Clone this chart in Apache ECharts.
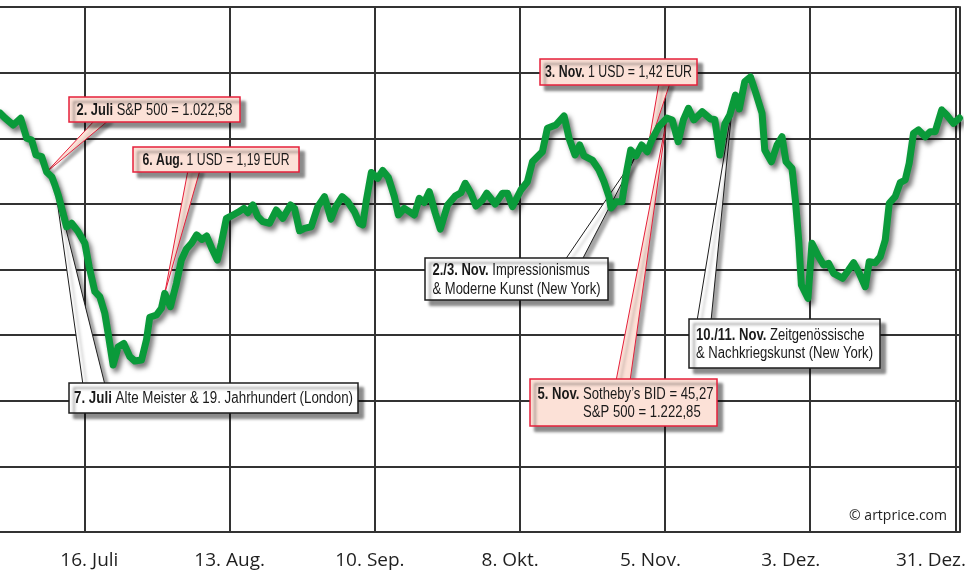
<!DOCTYPE html>
<html lang="de">
<head>
<meta charset="utf-8">
<title>Sotheby's (BID) – Juli bis Dezember</title>
<script src="https://cdn.jsdelivr.net/npm/echarts@6/dist/echarts.min.js"></script>
<style>
  html, body { margin: 0; padding: 0; background: #ffffff; }
  #chart { width: 969px; height: 570px; }
</style>
</head>
<body>
<div id="chart"></div>
<script>
// Days counted from 16 July (0) to 31 December (168).
const days = [
  -17.15, -16.38, -15.42, -13.82, -12.39, -11.23, -10.27, -9.44, -8.34, -7.38,
  -6.36, -5.78, -5.15, -3.53, -2.56, -1.29, 0, 0.83, 1.93, 2.89,
  3.85, 4.49, 5.45, 6.42, 7.52, 8.67, 9.64, 10.93, 11.89, 12.53,
  13.82, 14.78, 15.42, 16.51, 17.67, 18.63, 19.60, 20.62, 21.58, 22.55,
  23.51, 24.47, 25.57, 26.34, 27.31, 28.27, 29.54, 30.70, 31.47, 32.43,
  33.40, 34.36, 35.65, 36.94, 38.21, 39.70, 40.47, 41.43, 42.39, 43.69,
  44.96, 46.25, 47.50, 48.50, 49.66, 50.74, 52.03, 52.99, 53.63, 54.34,
  55.30, 56.52, 57.48, 58.58, 59.74, 60.51, 61.66, 62.63, 63.59, 64.55,
  65.52, 66.48, 67.64, 68.60, 70.01, 71.49, 72.59, 73.42, 74.52, 75.48,
  76.75, 77.56, 79.20, 80.61, 81.57, 82.53, 84.15, 85.42, 86.39, 87.68,
  88.31, 89.28, 90.90, 92.50, 93.46, 94.62, 95.52, 96.35, 97.95, 99.24,
  100.20, 101.17, 101.55, 102.52, 103.67, 104.39, 105.35, 106.37, 107.47, 108.55,
  109.51, 110.80, 112.34, 113.37, 114.52, 115.52, 116.49, 117.55, 119.15, 120.77,
  121.59, 122.56, 123.52, 124.48, 124.97, 125.58, 126.31, 127.37, 128.47, 129.44,
  130.71, 131.23, 132.52, 133.60, 134.56, 135.33, 136.49, 137.14, 137.78, 138.30,
  139.57, 140.34, 141.63, 142.60, 143.56, 144.53, 146.26, 147.42, 148.38, 149.34,
  150.63, 151.40, 152.56, 153.52, 154.49, 155.26, 156.41, 157.38, 158.34, 159.11,
  159.94, 160.90, 162.20, 163.16, 164.12, 165.39, 166.36, 167.65, 168.81
];

// Sotheby's share price (USD).
const bid = [
  45.78, 45.70, 45.28, 44.70, 45.26, 43.60, 43.45, 42.21, 42.07, 40.80,
  40.38, 39.72, 38.89, 36.25, 36.54, 35.84, 34.88, 32.93, 30.86, 30.44,
  29.06, 27.40, 24.77, 26.26, 26.57, 25.46, 25.10, 25.18, 26.85, 28.73,
  28.92, 29.48, 30.72, 29.61, 31.55, 33.49, 34.40, 34.90, 35.57, 35.19,
  35.48, 34.49, 33.49, 34.88, 36.95, 37.14, 37.45, 37.78, 37.42, 38.06,
  37.08, 36.67, 36.54, 37.64, 36.95, 38.06, 37.78, 35.92, 36.12, 36.25,
  37.92, 38.75, 36.89, 37.97, 38.75, 38.33, 37.50, 36.54, 36.40, 38.47,
  40.76, 40.27, 40.92, 40.34, 38.75, 37.23, 37.78, 37.50, 37.23, 38.61,
  38.26, 39.16, 37.37, 36.06, 38.06, 38.80, 39.08, 39.86, 39.03, 37.97,
  38.47, 39.03, 38.14, 39.03, 39.03, 37.92, 39.30, 39.99, 41.65, 42.21,
  42.48, 44.43, 44.70, 45.45, 43.60, 42.21, 43.04, 42.13, 41.79, 40.96,
  39.99, 38.75, 37.81, 38.33, 38.33, 40.41, 42.62, 42.13, 43.04, 42.48,
  43.54, 44.56, 45.27, 45.12, 43.31, 45.12, 46.09, 45.12, 45.80, 45.20,
  45.16, 42.21, 44.78, 45.53, 46.28, 47.19, 46.03, 48.30, 48.69, 47.44,
  45.67, 42.62, 41.65, 43.04, 43.73, 41.65, 41.10, 38.47, 35.15, 31.41,
  30.31, 34.88, 33.76, 33.07, 33.21, 32.38, 31.97, 32.66, 33.26, 32.52,
  31.27, 33.35, 33.26, 33.76, 35.15, 38.20, 38.75, 39.91, 40.13, 41.52,
  44.01, 44.29, 43.73, 44.14, 44.14, 45.95, 45.53, 44.84, 45.28
];

// Four-week grid and its date labels.
const tickDays = [0, 28, 56, 84, 112, 140, 168];
const tickLabels = ['16. Juli', '13. Aug.', '10. Sep.', '8. Okt.', '5. Nov.', '3. Dez.', '31. Dez.'];

// Annotated events: date, description lines, day on the curve they point at, kind.
const noteDates = ['2. Juli', '6. Aug.', '3. Nov.', '5. Nov.', '7. Juli', '2./3. Nov.', '10./11. Nov.'];
const noteLines = [
  ['S&P 500 = 1.022,58'],
  ['1 USD = 1,19 EUR'],
  ['1 USD = 1,42 EUR'],
  ['Sotheby\u2019s BID = 45,27', 'S&P 500 = 1.222,85'],
  ['Alte Meister & 19. Jahrhundert (London)'],
  ['Impressionismus', '& Moderne Kunst (New York)'],
  ['Zeitgen\u00f6ssische', '& Nachkriegskunst (New York)']
];
const noteDays = [-7.38, 15.42, 108.55, 112.34, -5.78, 106.37, 124.97];
const noteKinds = ['market', 'market', 'market', 'market', 'sale', 'sale', 'sale'];

// Callout boxes: [left, top, width, height], text run width, pointer base span.
const calloutLayout = [
  { box: [69, 97, 171, 25],  textW: 156, base: [95, 109] },
  { box: [133, 147, 166, 25], textW: 147, base: [188, 200] },
  { box: [540, 59, 157, 26], textW: 147, base: [659, 670] },
  { box: [530, 379, 187, 47], textW: 176, base: [616, 630], indent: true },
  { box: [69, 383, 289, 30], textW: 279, base: [83, 105] },
  { box: [425, 258, 183, 42], textW: 168, base: [565, 582] },
  { box: [689, 319, 191, 49], textW: 177, base: [697, 711] }
];

const calloutFont = "'Liberation Sans', Arial, sans-serif";
const calloutSize = 16;
const kindStyle = {
  market: { fill: '#fce1d7', stroke: '#e5203b' },
  sale:   { fill: '#ffffff', stroke: '#1e1e1e' }
};
const gridColor = '#333333';

const chart = echarts.init(document.getElementById('chart'), null, { renderer: 'canvas' });

const option = {
  animation: false,
  backgroundColor: '#ffffff',
  grid: { left: 0, right: 8, top: 7, bottom: 38, containLabel: false },
  xAxis: [
    {
      type: 'value',
      min: -16.38,
      max: 168.81,
      position: 'bottom',
      axisLine: { show: true, onZero: false, lineStyle: { color: gridColor, width: 2 } },
      axisTick: { show: false, customValues: tickDays },
      axisLabel: { show: false },
      splitLine: { show: true, lineStyle: { color: gridColor, width: 2 } }
    },
    {
      // label row for the date ticks
      type: 'value',
      min: -17.84,
      max: 173.68,
      position: 'bottom',
      axisLine: { show: false, onZero: false },
      axisTick: { show: false },
      splitLine: { show: false },
      axisLabel: {
        show: true,
        customValues: tickDays,
        formatter: v => tickLabels[tickDays.indexOf(v)],
        fontFamily: "'Open Sans', 'Noto Sans', sans-serif",
        fontSize: 19,
        color: '#1f1f1f',
        margin: 19
      }
    }
  ],
  yAxis: [
    {
      type: 'value',
      min: 10.9,
      max: 54.5,
      interval: 5.45,
      axisLine: { show: false, onZero: false },
      axisTick: { show: false },
      axisLabel: { show: false },
      splitLine: { show: true, lineStyle: { color: gridColor, width: 2 } }
    },
    {
      type: 'value',
      position: 'right',
      min: 10.9,
      max: 54.5,
      interval: 5.45,
      axisLine: { show: true, onZero: false, lineStyle: { color: gridColor, width: 2 } },
      axisTick: { show: false },
      axisLabel: { show: false },
      splitLine: { show: false }
    }
  ],
  series: [
    {
      name: 'Sotheby\u2019s (BID)',
      type: 'line',
      xAxisIndex: 0,
      yAxisIndex: 0,
      data: days.map((d, i) => [d, bid[i]]),
      showSymbol: false,
      clip: true,
      z: 3,
      lineStyle: {
        color: '#0a9a3a',
        width: 7,
        join: 'round',
        cap: 'round',
        shadowColor: 'rgba(0,0,0,0.55)',
        shadowBlur: 5,
        shadowOffsetX: 3,
        shadowOffsetY: 4
      }
    }
  ]
};

chart.setOption(option);

const measureCtx = document.createElement('canvas').getContext('2d');
function runWidth(str, weight) {
  measureCtx.font = weight + ' ' + calloutSize + 'px ' + calloutFont;
  return measureCtx.measureText(str).width;
}

// Callouts: a box with the event text and a wedge pointing at the curve.
function buildCallouts() {
  const els = [];
  noteDates.forEach((date, i) => {
    const lay = calloutLayout[i];
    const st = kindStyle[noteKinds[i]];
    const [bx, by, bw, bh] = lay.box;
    const idx = days.indexOf(noteDays[i]);
    const tip = chart.convertToPixel({ seriesIndex: 0 }, [days[idx], bid[idx]]);
    const below = tip[1] > by + bh;
    const baseY = below ? by + bh - 2 : by + 2;

    els.push({
      type: 'polygon',
      z: 1,
      shape: { points: [[lay.base[0], baseY], tip, [lay.base[1], baseY]] },
      style: {
        fill: st.fill, stroke: st.stroke, lineWidth: 1,
        shadowColor: 'rgba(0,0,0,0.35)', shadowBlur: 3, shadowOffsetX: 4, shadowOffsetY: 3
      },
      silent: true
    });
    els.push({
      type: 'rect',
      z: 10,
      shape: { x: bx, y: by, width: bw, height: bh },
      style: {
        fill: st.fill, stroke: st.stroke, lineWidth: 1.5,
        shadowColor: 'rgba(0,0,0,0.45)', shadowBlur: 3, shadowOffsetX: 5, shadowOffsetY: 5
      },
      silent: true
    });

    const lines = noteLines[i];
    const headW = runWidth(date, 'bold') + runWidth(' ', 'normal');
    let widest = headW + runWidth(lines[0], 'normal');
    let txt = '{d|' + date + '} {t|' + lines[0] + '}';
    for (let k = 1; k < lines.length; k++) {
      const w = (lay.indent ? headW : 0) + runWidth(lines[k], 'normal');
      widest = Math.max(widest, w);
      txt += '\n' + (lay.indent ? '{g|' + date + '} ' : '') + '{t|' + lines[k] + '}';
    }
    const sx = lay.textW / widest;
    const lh = 18.5;
    els.push({
      type: 'text',
      z: 11,
      x: bx + (bw - lay.textW) / 2 + (lay.indent ? 2 : 0),
      y: by + bh / 2 + 1,
      scaleX: sx,
      scaleY: 1,
      style: {
        text: txt,
        fontFamily: calloutFont,
        fontSize: calloutSize,
        lineHeight: lh,
        fill: '#1a1a1a',
        align: 'left',
        verticalAlign: 'middle',
        rich: {
          d: { fontFamily: calloutFont, fontSize: calloutSize, fontWeight: 'bold', fill: '#1a1a1a', lineHeight: lh },
          g: { fontFamily: calloutFont, fontSize: calloutSize, fontWeight: 'bold', fill: 'rgba(0,0,0,0)', lineHeight: lh },
          t: { fontFamily: calloutFont, fontSize: calloutSize, fontWeight: 'normal', fill: '#1a1a1a', lineHeight: lh }
        }
      },
      silent: true
    });
  });

  els.push({
    type: 'text',
    z: 11,
    x: 947,
    y: 516,
    style: {
      text: '\u00a9 artprice.com',
      fontFamily: "'Open Sans', 'Noto Sans', sans-serif",
      fontSize: 14,
      fill: '#1f1f1f',
      align: 'right',
      verticalAlign: 'middle'
    },
    silent: true
  });
  return els;
}

chart.setOption({ graphic: { elements: buildCallouts() } });
</script>
</body>
</html>
